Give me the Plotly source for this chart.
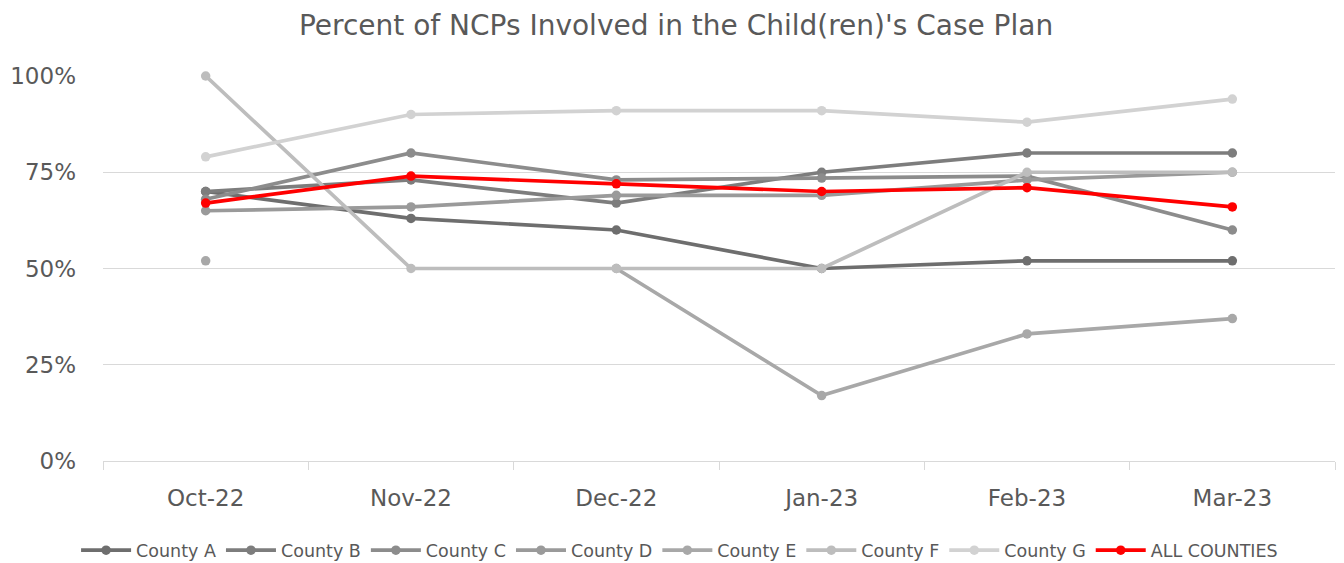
import plotly.graph_objects as go

months = ["Oct-22", "Nov-22", "Dec-22", "Jan-23", "Feb-23", "Mar-23"]
county_a = [0.70, 0.63, 0.60, 0.50, 0.52, 0.52]
county_b = [0.70, 0.73, 0.67, 0.75, 0.80, 0.80]
county_c = [0.68, 0.80, 0.73, 0.735, 0.74, 0.60]
county_d = [0.65, 0.66, 0.69, 0.69, 0.73, 0.75]
county_e = [0.52, None, 0.50, 0.17, 0.33, 0.37]
county_f = [1.00, 0.50, 0.50, 0.50, 0.75, 0.75]
county_g = [0.79, 0.90, 0.91, 0.91, 0.88, 0.94]
all_counties = [0.67, 0.74, 0.72, 0.70, 0.71, 0.66]

series = [
    ("County A", county_a, "#6e6e6e"),
    ("County B", county_b, "#7d7d7d"),
    ("County C", county_c, "#8c8c8c"),
    ("County D", county_d, "#9a9a9a"),
    ("County E", county_e, "#a8a8a8"),
    ("County F", county_f, "#bdbdbd"),
    ("County G", county_g, "#d2d2d2"),
    ("ALL COUNTIES", all_counties, "#ff0000"),
]

FONT = "DejaVu Sans, sans-serif"

fig = go.Figure()
for name, vals, color in series:
    fig.add_trace(go.Scatter(
        x=months, y=vals, name=name, mode="lines+markers",
        line=dict(color=color, width=3.7),
        marker=dict(color=color, size=9.5),
        connectgaps=False, cliponaxis=False,
    ))

fig.update_layout(
    width=1344, height=563,
    margin=dict(l=103, r=9, t=76, b=102, autoexpand=False),
    paper_bgcolor="white", plot_bgcolor="white",
    font=dict(family=FONT, color="#595959", size=18),
    title=dict(text="Percent of NCPs Involved in the Child(ren)'s Case Plan",
               x=0.503, xanchor="center", y=0.955, yanchor="middle",
               font=dict(size=28, color="#595959", family=FONT)),
    showlegend=True,
    legend=dict(orientation="h", x=0.468, xanchor="center", y=-0.232, yanchor="middle",
                font=dict(size=17.5, color="#595959", family=FONT),
                itemwidth=50, tracegroupgap=0),
)
fig.update_xaxes(
    type="category", range=[-0.5, 5.5], automargin=False,
    showgrid=False, showline=True, linecolor="#d9d9d9", linewidth=1,
    ticks="outside", tickson="boundaries", ticklen=8, tickcolor="#d9d9d9",
    tickfont=dict(size=23, color="#595959"), ticklabelstandoff=16,
    zeroline=False,
)
fig.update_yaxes(
    range=[0, 1], tickvals=[0, 0.25, 0.5, 0.75, 1.0], tickformat=".0%",
    automargin=False,
    showgrid=True, gridcolor="#d9d9d9", gridwidth=1,
    zeroline=False, showline=False, ticks="",
    tickfont=dict(size=23, color="#595959"), ticklabelstandoff=26,
)

fig.write_html("out.html")
